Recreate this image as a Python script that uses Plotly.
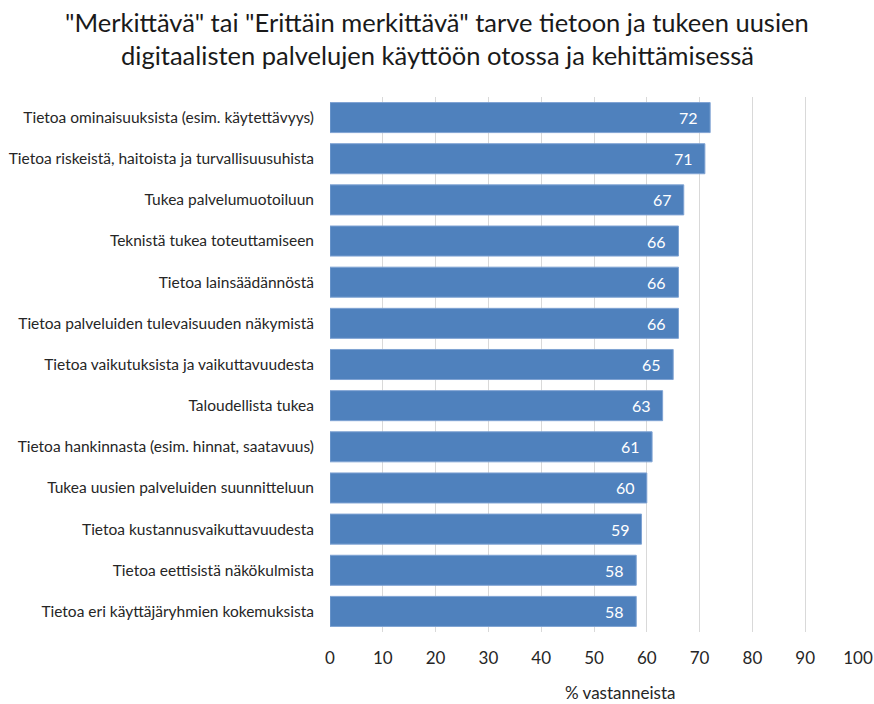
import plotly.graph_objects as go

categories = [
    "Tietoa ominaisuuksista (esim. käytettävyys)",
    "Tietoa riskeistä, haitoista ja turvallisuusuhista",
    "Tukea palvelumuotoiluun",
    "Teknistä tukea toteuttamiseen",
    "Tietoa lainsäädännöstä",
    "Tietoa palveluiden tulevaisuuden näkymistä",
    "Tietoa vaikutuksista ja vaikuttavuudesta",
    "Taloudellista tukea",
    "Tietoa hankinnasta (esim. hinnat, saatavuus)",
    "Tukea uusien palveluiden suunnitteluun",
    "Tietoa kustannusvaikuttavuudesta",
    "Tietoa eettisistä näkökulmista",
    "Tietoa eri käyttäjäryhmien kokemuksista",
]
values = [72, 71, 67, 66, 66, 66, 65, 63, 61, 60, 59, 58, 58]
x_ticks = [0, 10, 20, 30, 40, 50, 60, 70, 80, 90, 100]

title_lines = [
    '"Merkittävä" tai "Erittäin merkittävä" tarve tietoon ja tukeen uusien',
    'digitaalisten palvelujen käyttöön otossa ja kehittämisessä',
]
x_title = "% vastanneista"

FONT = "Lato"
BAR = "#4F81BD"
TXT = "#262626"

fig = go.Figure()
fig.add_trace(go.Bar(
    y=categories,
    x=values,
    orientation="h",
    marker=dict(color=BAR, line=dict(color="#7FA3D3", width=1)),
    width=0.73,
    hoverinfo="x+y",
))

# value labels inside the bar ends
for cat, v in zip(categories, values):
    fig.add_annotation(
        x=v, y=cat, xref="x", yref="y",
        text=str(v), showarrow=False,
        xanchor="right", xshift=-10,
        font=dict(family=FONT, size=16, color="white"),
    )

# two-line chart title, centred on the page
title_x = (437 - 330) / 528
for line, shift in zip(title_lines, [97 - 22, 97 - 55]):
    fig.add_annotation(
        x=title_x, y=1, xref="paper", yref="paper",
        xanchor="center", yanchor="middle", yshift=shift,
        text=line, showarrow=False,
        font=dict(family=FONT, size=25.5, color="#1a1a1a"),
    )

fig.add_annotation(
    x=(620 - 330) / 528, y=0, xref="paper", yref="paper",
    yshift=632 - 692, yanchor="middle",
    text=x_title, showarrow=False,
    font=dict(family=FONT, size=17, color=TXT),
)

fig.update_layout(
    width=874, height=704,
    margin=dict(l=330, r=16, t=97, b=72, autoexpand=False),
    paper_bgcolor="white", plot_bgcolor="white",
    showlegend=False,
    bargap=0.27,
    xaxis=dict(
        range=[0, 100],
        tickvals=x_ticks,
        showgrid=True, gridcolor="#D9D9D9", gridwidth=1,
        zeroline=False, showline=False,
        ticks="", ticklen=0,
        ticklabelstandoff=14,
        automargin=False,
        tickfont=dict(family=FONT, size=17, color=TXT),
        fixedrange=True,
    ),
    yaxis=dict(
        autorange="reversed",
        showgrid=False, zeroline=False, showline=False,
        ticks="", ticklen=0,
        ticklabelstandoff=15,
        automargin=False,
        tickfont=dict(family=FONT, size=15.5, color=TXT),
        fixedrange=True,
    ),
)

fig.write_html("out.html")
